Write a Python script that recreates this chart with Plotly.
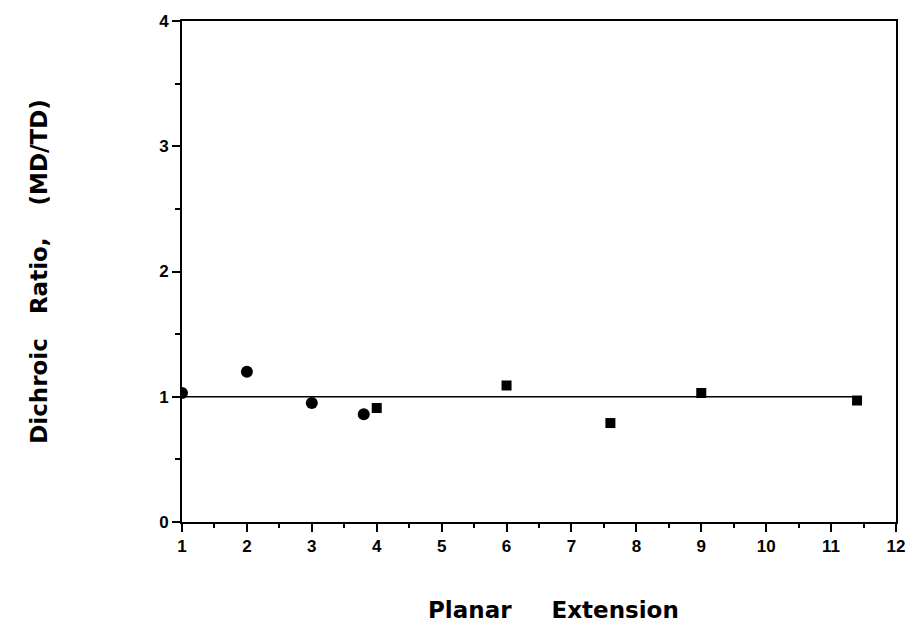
import plotly.graph_objects as go

circle_x = [1, 2, 3, 3.8]
circle_y = [1.03, 1.2, 0.95, 0.86]
square_x = [4, 6, 7.6, 9, 11.4]
square_y = [0.91, 1.09, 0.79, 1.03, 0.97]
line_x = [1, 11.4]
line_y = [1, 1]
x_ticks = list(range(1, 13))
y_ticks = [0, 1, 2, 3, 4]

fig = go.Figure()
fig.add_trace(go.Scatter(x=line_x, y=line_y, mode="lines",
                         line=dict(color="black", width=1.5), showlegend=False))
fig.add_trace(go.Scatter(x=circle_x, y=circle_y, mode="markers",
                         marker=dict(symbol="circle", size=12, color="black"), showlegend=False))
fig.add_trace(go.Scatter(x=square_x, y=square_y, mode="markers",
                         marker=dict(symbol="square", size=10, color="black"), showlegend=False))

tick_font = dict(family="Arial, Liberation Sans, sans-serif", size=17, color="black", weight="bold")
xtitle_font = dict(family="DejaVu Sans", size=23, color="black", weight="bold")
ytitle_font = dict(family="DejaVu Sans", size=23, color="black", weight="bold")

fig.update_layout(
    width=917, height=624,
    margin=dict(l=182, r=14, t=18, b=102),
    paper_bgcolor="white", plot_bgcolor="white",
    xaxis=dict(
        range=[1, 12], tickmode="array", tickvals=x_ticks,
        ticktext=[str(v) for v in x_ticks],
        showline=True, linecolor="black", linewidth=2, mirror=True,
        ticks="outside", ticklen=8, tickwidth=2, tickcolor="black",
        minor=dict(ticks="outside", ticklen=4, tickwidth=2, tickcolor="black", dtick=0.5, tick0=1),
        showgrid=False, zeroline=False,
        tickfont=tick_font,
    ),
    yaxis=dict(
        range=[0, 4], tickmode="array", tickvals=y_ticks,
        ticktext=[str(v) for v in y_ticks],
        showline=True, linecolor="black", linewidth=2, mirror=True,
        ticks="outside", ticklen=8, tickwidth=2, tickcolor="black",
        minor=dict(ticks="outside", ticklen=5, tickwidth=2, tickcolor="black", dtick=0.5, tick0=0),
        showgrid=False, zeroline=False,
        tickfont=tick_font,
        title=dict(text="Dichroic&nbsp;&nbsp; Ratio,&nbsp;&nbsp;&nbsp; (MD/TD)", font=ytitle_font, standoff=105),
    ),
    annotations=[dict(
        text="Planar&nbsp;&nbsp;&nbsp;&nbsp; Extension", xref="paper", yref="paper",
        x=0.52, y=-0.175, xanchor="center", yanchor="middle", showarrow=False,
        font=xtitle_font,
    )],
)

fig.write_html("out.html")
